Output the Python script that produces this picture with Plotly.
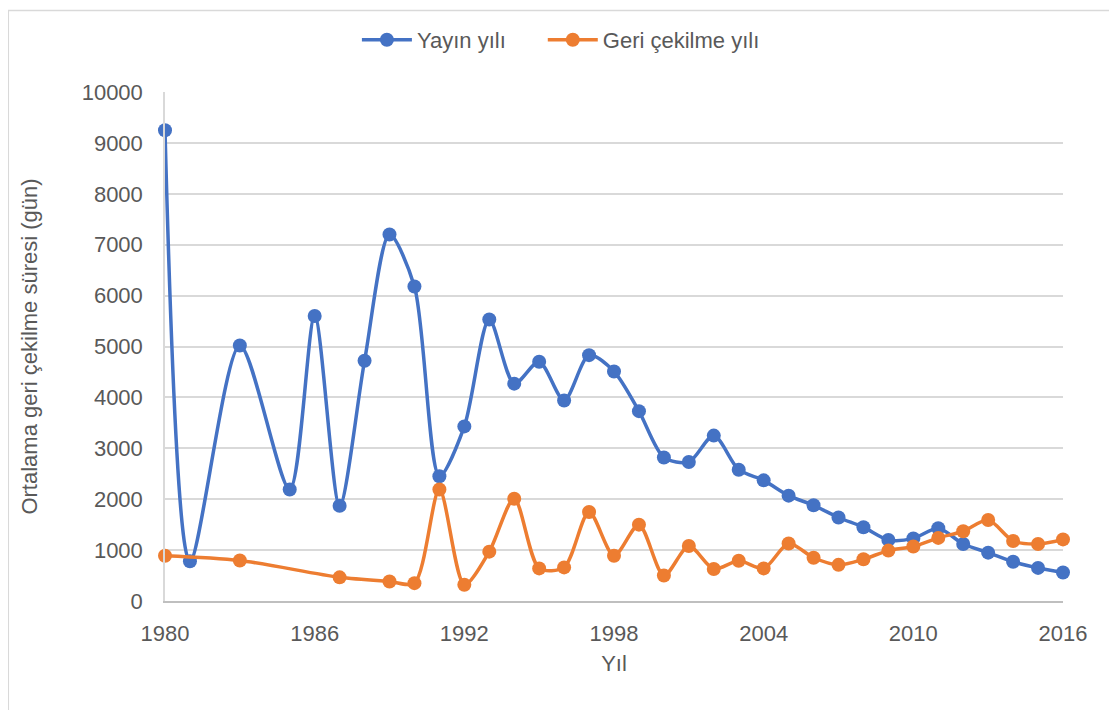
import plotly.graph_objects as go

# Yayın yılı (publication year) series
yayin_years = [1980, 1981, 1983, 1985, 1986, 1987, 1988, 1989, 1990, 1991, 1992,
               1993, 1994, 1995, 1996, 1997, 1998, 1999, 2000, 2001, 2002, 2003,
               2004, 2005, 2006, 2007, 2008, 2009, 2010, 2011, 2012, 2013, 2014,
               2015, 2016]
yayin_values = [9250, 780, 5020, 2190, 5600, 1870, 4720, 7200, 6180, 2450, 3430,
                5530, 4270, 4700, 3940, 4830, 4510, 3730, 2820, 2730, 3250, 2580,
                2370, 2070, 1880, 1640, 1450, 1200, 1230, 1430, 1120, 950, 770,
                650, 560]

# Geri çekilme yılı (retraction year) series
geri_years = [1980, 1983, 1987, 1989, 1990, 1991, 1992, 1993, 1994, 1995, 1996,
              1997, 1998, 1999, 2000, 2001, 2002, 2003, 2004, 2005, 2006, 2007,
              2008, 2009, 2010, 2011, 2012, 2013, 2014, 2015, 2016]
geri_values = [890, 796, 465, 384, 351, 2190, 320, 970, 2010, 640, 660,
               1750, 890, 1500, 500, 1080, 630, 790, 640, 1130, 850, 710,
               820, 990, 1070, 1240, 1370, 1590, 1180, 1120, 1210]

x_ticks = [1980, 1986, 1992, 1998, 2004, 2010, 2016]
y_ticks = list(range(0, 10001, 1000))

text_color = "#595959"
font_name = "Liberation Sans, Arial, sans-serif"
fsize = 22

fig = go.Figure()

fig.add_trace(go.Scatter(
    x=yayin_years, y=yayin_values, name="Yayın yılı", legend="legend",
    mode="lines+markers", line=dict(color="#4472C4", width=3.5, shape="spline", smoothing=0.8),
    marker=dict(size=14, color="#4472C4"), cliponaxis=False
))
fig.add_trace(go.Scatter(
    x=geri_years, y=geri_values, name="Geri çekilme yılı", legend="legend2",
    mode="lines+markers", line=dict(color="#ED7D31", width=3.5, shape="spline", smoothing=0.8),
    marker=dict(size=14, color="#ED7D31"), cliponaxis=False
))

# two single-entry legends so the spacing between items matches
legend_style = dict(orientation="h", y=1.1, yanchor="middle", xanchor="left",
                    font=dict(size=fsize, color=text_color), itemwidth=50,
                    bgcolor="rgba(0,0,0,0)")

fig.update_layout(
    width=1117, height=710,
    margin=dict(l=157, r=62, t=83, b=117),
    paper_bgcolor="white", plot_bgcolor="white",
    font=dict(family=font_name, color=text_color, size=fsize),
    showlegend=True,
    legend=dict(x=0.2137, **legend_style),
    legend2=dict(x=0.4207, **legend_style),
    shapes=[dict(type="rect", xref="paper", yref="paper",
                 x0=-0.1745, x1=1.08, y0=-0.25, y1=1.16,
                 line=dict(color="#d9d9d9", width=1.5), layer="below")]
)

fig.update_xaxes(
    range=[1980, 2016], tickvals=x_ticks, ticktext=[str(t) for t in x_ticks],
    showgrid=False, showline=True, linecolor="#bfbfbf", linewidth=1.5,
    ticks="", tickfont=dict(size=fsize, color=text_color), ticklabelstandoff=12,
    automargin=False,
    title=dict(text="Yıl", font=dict(size=fsize, color=text_color), standoff=10)
)
fig.update_yaxes(
    range=[0, 10000], tickvals=y_ticks, ticktext=[str(t) for t in y_ticks],
    showgrid=True, gridcolor="#d9d9d9", gridwidth=1.5,
    showline=True, linecolor="#d9d9d9", linewidth=1.5, zeroline=False,
    ticks="", tickfont=dict(size=fsize, color=text_color), ticklabelstandoff=16,
    automargin=False,
    title=dict(text="Ortalama geri çekilme süresi (gün)", font=dict(size=fsize, color=text_color), standoff=38)
)

fig.write_html("out.html")
